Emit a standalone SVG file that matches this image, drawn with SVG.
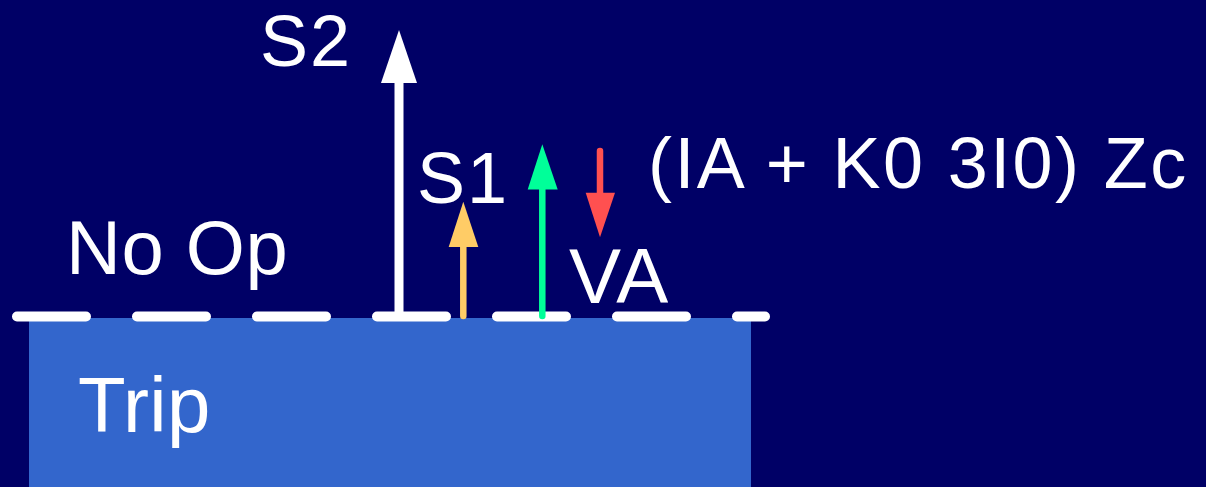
<svg xmlns="http://www.w3.org/2000/svg" width="1206" height="487" viewBox="0 0 1206 487">
  <style>
    .lbl { font-family: "Liberation Sans", Arial, sans-serif; fill: #FFFFFF; letter-spacing: 2px; }
  </style>
  <rect x="0" y="0" width="1206" height="487" fill="#000066"/>
  <g id="trip-zone">
    <rect x="29" y="318" width="722" height="169" fill="#3366CC"/>
    <text class="lbl" x="78" y="432" font-size="78" style="letter-spacing:0.3px">Trip</text>
  </g>
  <g id="threshold">
    <line x1="17" y1="316.5" x2="765" y2="316.5" stroke="#FFFFFF" stroke-width="10" stroke-dasharray="69 51" stroke-linecap="round"/>
  </g>
  <g id="noop-label">
    <text class="lbl" x="66" y="274" font-size="76" style="letter-spacing:0.5px">No Op</text>
  </g>
  <g id="connectors">
    <g id="s2-arrow">
      <line x1="399" y1="316" x2="399" y2="80" stroke="#FFFFFF" stroke-width="9"/>
      <polygon points="399,30 381,83 417,83" fill="#FFFFFF"/>
    </g>
    <g id="s1-arrow">
      <line x1="463.3" y1="316" x2="463.3" y2="244" stroke="#FFCC66" stroke-width="6.5" stroke-linecap="round"/>
      <polygon points="463.3,201.7 448.7,247 478.3,247" fill="#FFCC66"/>
    </g>
    <g id="va-arrow">
      <line x1="542.3" y1="316" x2="542.3" y2="187" stroke="#00FF99" stroke-width="6.5" stroke-linecap="round"/>
      <polygon points="542.3,144.3 527.7,189.5 557.7,189.5" fill="#00FF99"/>
    </g>
    <g id="comp-arrow">
      <line x1="600" y1="151" x2="600" y2="195" stroke="#FF5050" stroke-width="6.5" stroke-linecap="round"/>
      <polygon points="585.7,192.7 615,192.7 600,237.3" fill="#FF5050"/>
    </g>
  </g>
  <g id="s2-label"><text class="lbl" x="260" y="66" font-size="72">S2</text></g>
  <g id="s1-label"><text class="lbl" x="417" y="203" font-size="72">S1</text></g>
  <g id="va-label"><text class="lbl" x="569" y="303" font-size="78" style="letter-spacing:1px">VA</text></g>
  <g id="formula-label"><text class="lbl" x="648" y="188" font-size="72" style="letter-spacing:2.4px">(IA + K0 3I0) Zc</text></g>
</svg>
